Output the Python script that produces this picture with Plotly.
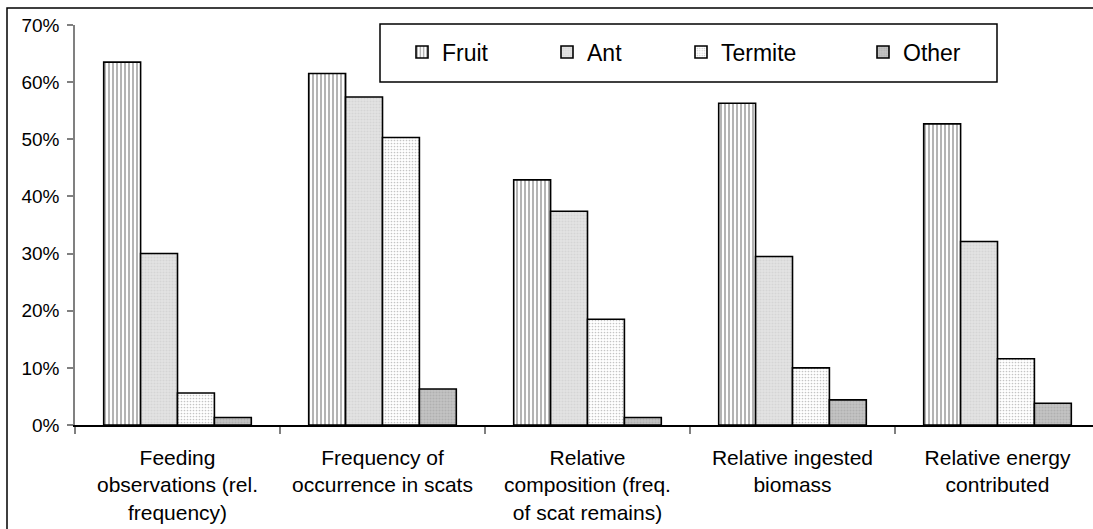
import plotly.graph_objects as go

# Diet composition measures (categories on the x axis)
categories = [
    "Feeding<br>observations (rel.<br>frequency)",
    "Frequency of<br>occurrence in scats",
    "Relative<br>composition (freq.<br>of scat remains)",
    "Relative ingested<br>biomass",
    "Relative energy<br>contributed",
]

# Percentages per food type
fruit = [63.5, 61.5, 42.9, 56.3, 52.7]
ant = [30.0, 57.4, 37.4, 29.5, 32.1]
termite = [5.6, 50.3, 18.5, 10.0, 11.6]
other = [1.3, 6.3, 1.3, 4.4, 3.8]

y_ticks = [0, 10, 20, 30, 40, 50, 60, 70]
y_tick_labels = ["0%", "10%", "20%", "30%", "40%", "50%", "60%", "70%"]

FONT = "Liberation Sans, Arial, sans-serif"
W, H = 1093, 529
L, R, T, B = 75, 0, 25, 104
PW, PH = W - L - R, H - T - B
CAT_W = 205.0  # pixel width of one category slot

series = [
    ("Fruit", fruit, dict(shape="|", size=4, solidity=0.5, fgcolor="#6a6a6a", bgcolor="#ffffff")),
    ("Ant", ant, dict(shape=".", size=3, solidity=0.4, fgcolor="#c6c6c6", bgcolor="#e4e4e4")),
    ("Termite", termite, dict(shape=".", size=3, solidity=0.25, fgcolor="#8a8a8a", bgcolor="#ffffff")),
    ("Other", other, dict(shape=".", size=3, solidity=0.4, fgcolor="#9c9c9c", bgcolor="#c4c4c4")),
]

# one legend per series so each entry sits at its own spot in the key box
legend_x_px = [402, 547, 681, 863]
legend_names = ["legend", "legend2", "legend3", "legend4"]

fig = go.Figure()
for (name, vals, pat), lg in zip(series, legend_names):
    fig.add_trace(go.Bar(
        x=categories, y=vals, name=name, legend=lg,
        marker=dict(pattern=pat, color=pat["bgcolor"],
                    line=dict(color="#000000", width=1.6)),
    ))

layout_legends = {}
for lg, px in zip(legend_names, legend_x_px):
    layout_legends[lg] = dict(
        x=(px - L) / PW, xanchor="left",
        y=1 + (T - 52) / PH, yanchor="middle",
        orientation="h", borderwidth=0, bgcolor="rgba(0,0,0,0)",
        font=dict(family=FONT, size=23, color="#000000"),
    )

fig.update_layout(
    width=W, height=H,
    margin=dict(l=L, r=R, t=T, b=B, pad=0),
    paper_bgcolor="#ffffff", plot_bgcolor="#ffffff",
    barmode="group", bargap=0.28, bargroupgap=0,
    showlegend=True,
    font=dict(family=FONT, color="#000000"),
    **layout_legends,
    xaxis=dict(
        range=[-0.5, -0.5 + PW / CAT_W],
        showline=True, linecolor="#000000", linewidth=1.5,
        ticks="outside", ticklen=7, tickwidth=1.5, tickcolor="#808080",
        tickson="boundaries", showgrid=False, zeroline=False,
        tickfont=dict(family=FONT, size=21, color="#000000"),
        ticklabelstandoff=13,
        fixedrange=True,
    ),
    yaxis=dict(
        range=[0, 70], tickvals=y_ticks, ticktext=y_tick_labels,
        showline=True, linecolor="#808080", linewidth=1.5,
        ticks="outside", ticklen=6, tickwidth=1.5, tickcolor="#808080",
        ticklabelstandoff=4,
        showgrid=False, zeroline=False,
        tickfont=dict(family=FONT, size=19, color="#000000"),
        fixedrange=True,
    ),
    shapes=[
        # outer frame around the chart
        dict(type="rect", xref="paper", yref="paper",
             x0=(7 - L) / PW, x1=1.2, y0=-0.5, y1=1 + (T - 8) / PH,
             line=dict(color="#000000", width=1.5), fillcolor="rgba(0,0,0,0)", layer="below"),
        # key box
        dict(type="rect", xref="paper", yref="paper",
             x0=(380 - L) / PW, x1=(997 - L) / PW,
             y0=1 + (T - 82) / PH, y1=1 + (T - 24) / PH,
             line=dict(color="#000000", width=1.5), fillcolor="#ffffff", layer="above"),
    ],
)

fig.write_html("out.html")
